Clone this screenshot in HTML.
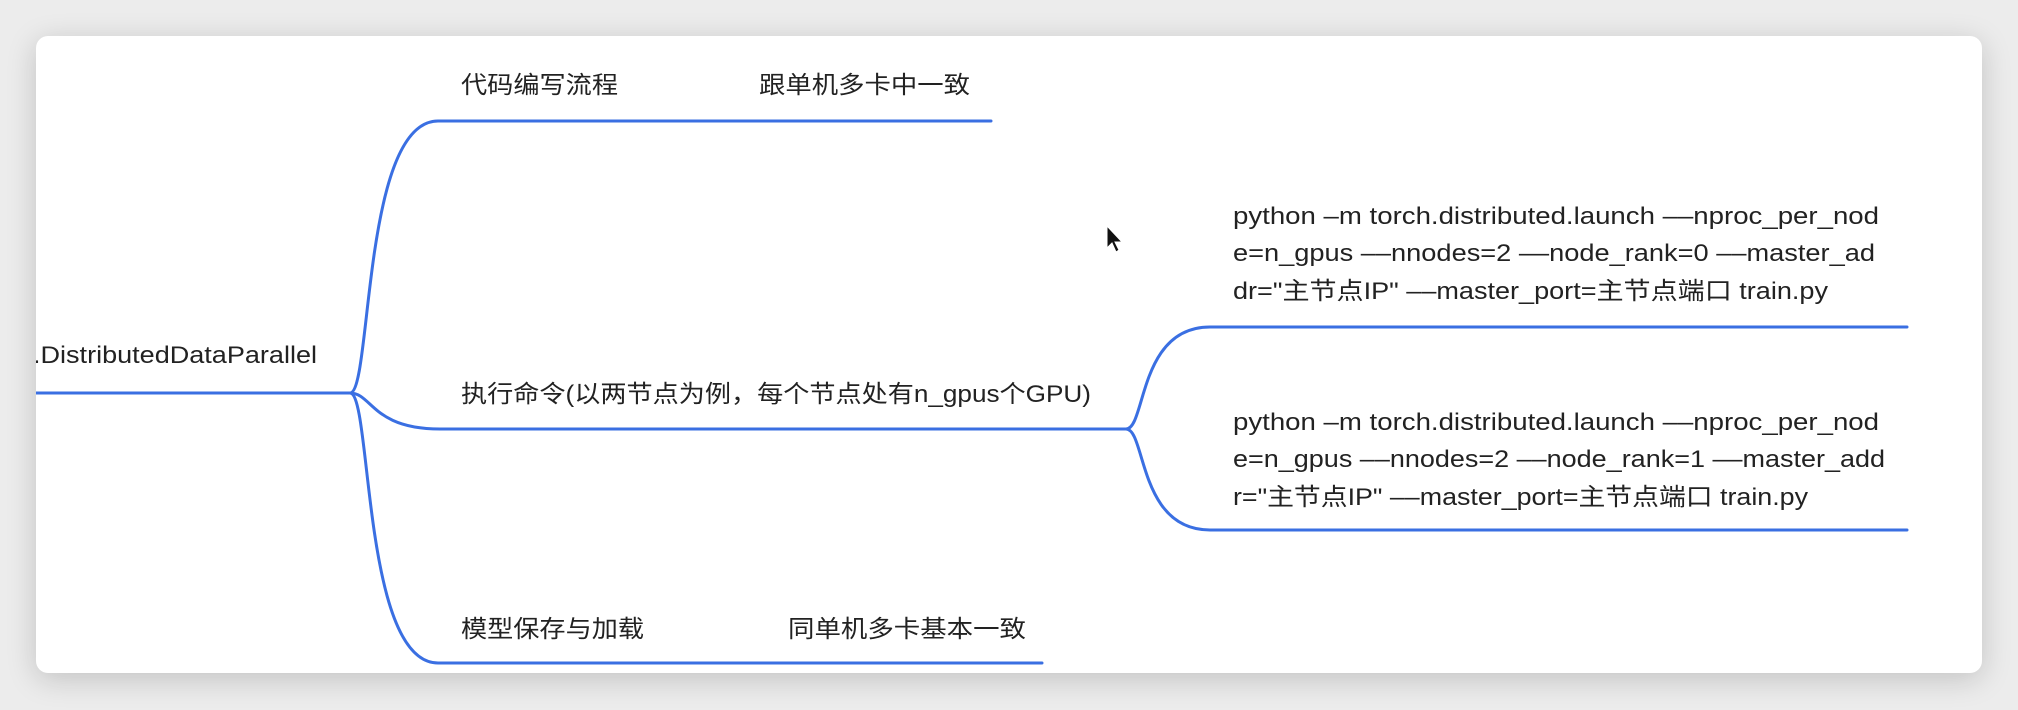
<!DOCTYPE html>
<html><head><meta charset="utf-8"><style>
html,body{margin:0;padding:0;width:2018px;height:710px;overflow:hidden;background:#ececec;}
.card{position:absolute;left:36px;top:36px;width:1946px;height:637px;background:#fff;border-radius:12px;box-shadow:0 6px 30px rgba(0,0,0,0.18);overflow:hidden;}
svg{position:absolute;left:0;top:0;}
text{font-family:"Liberation Sans","Noto Sans CJK SC",sans-serif;font-size:24px;fill:#222;}
</style></head><body>
<div class="card"></div>
<svg width="2018" height="710" viewBox="0 0 2018 710">
<defs><clipPath id="c"><rect x="36" y="36" width="1946" height="637" rx="12"/></clipPath></defs>
<g clip-path="url(#c)">
<g fill="none" stroke="#3a6fe2" stroke-width="3" stroke-linecap="round">
<path d="M36 393 L350 393"/>
<path d="M350 393 C372 393 362 121 438 121 L991 121"/>
<path d="M350 393 C372 393 372 429 440 429 L1126 429"/>
<path d="M350 393 C372 393 362 663 438 663 L1042 663"/>
<path d="M1126 429 C1146 429 1138 327 1210 327 L1907 327"/>
<path d="M1126 429 C1146 429 1138 530 1210 530 L1907 530"/>
</g>
<text x="33" y="363" textLength="284" lengthAdjust="spacingAndGlyphs">.DistributedDataParallel</text>
<text x="461" y="93" textLength="157" lengthAdjust="spacingAndGlyphs">代码编写流程</text>
<text x="759" y="93" textLength="211" lengthAdjust="spacingAndGlyphs">跟单机多卡中一致</text>
<text x="461" y="402" textLength="630" lengthAdjust="spacingAndGlyphs">执行命令(以两节点为例，每个节点处有n_gpus个GPU)</text>
<text x="461" y="637" textLength="183" lengthAdjust="spacingAndGlyphs">模型保存与加载</text>
<text x="788" y="637" textLength="238" lengthAdjust="spacingAndGlyphs">同单机多卡基本一致</text>
<text x="1233" y="224" textLength="646" lengthAdjust="spacingAndGlyphs">python –m torch.distributed.launch ––nproc_per_nod</text>
<text x="1233" y="261" textLength="642" lengthAdjust="spacingAndGlyphs">e=n_gpus ––nnodes=2 ––node_rank=0 ––master_ad</text>
<text x="1233" y="299" textLength="595" lengthAdjust="spacingAndGlyphs">dr="主节点IP" ––master_port=主节点端口 train.py</text>
<text x="1233" y="430" textLength="646" lengthAdjust="spacingAndGlyphs">python –m torch.distributed.launch ––nproc_per_nod</text>
<text x="1233" y="467" textLength="652" lengthAdjust="spacingAndGlyphs">e=n_gpus ––nnodes=2 ––node_rank=1 ––master_add</text>
<text x="1233" y="505" textLength="575" lengthAdjust="spacingAndGlyphs">r="主节点IP" ––master_port=主节点端口 train.py</text>
<path d="M1107 226 L1107 248 L1112 243 L1116 252 L1119 250 L1115 242 L1122 242 Z" fill="#111" stroke="#fff" stroke-width="1"/>
</g>
</svg>
</body></html>
